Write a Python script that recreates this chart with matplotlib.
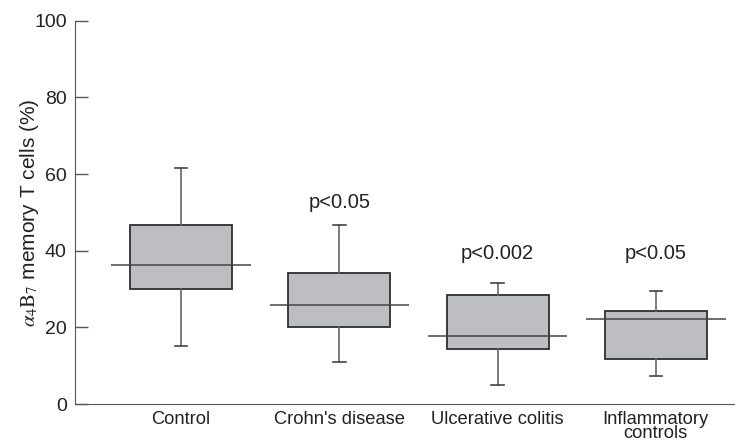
import numpy as np
import matplotlib
matplotlib.use("Agg")
import matplotlib.pyplot as plt

plt.rcParams['font.family'] = ['Liberation Sans', 'DejaVu Sans']
plt.rcParams['mathtext.fontset'] = 'stix'

groups = ["Control", "Crohn's disease", "Ulcerative colitis", "Inflammatory\ncontrols"]
whisker_lo = [15.1, 10.9, 5.0, 7.4]
q1 = [30.1, 20.0, 14.3, 11.7]
median = [36.3, 25.8, 17.8, 22.1]
q3 = [46.7, 34.3, 28.4, 24.4]
whisker_hi = [61.7, 46.8, 31.7, 29.4]
p_labels = ["", "p<0.05", "p<0.002", "p<0.05"]
p_y = [0, 52.7, 39.4, 39.4]

fig = plt.figure(figsize=(7.35, 4.43), dpi=100)
ax = fig.add_axes([0.102, 0.088, 0.898, 0.865])

pos = np.arange(1, len(groups) + 1)
stats = []
for i in range(len(groups)):
    stats.append(dict(whislo=whisker_lo[i], q1=q1[i], med=median[i],
                      q3=q3[i], whishi=whisker_hi[i], fliers=[]))

ax.bxp(stats, positions=pos, widths=0.645, patch_artist=True,
       showfliers=False,
       boxprops=dict(facecolor='#bdbec2', edgecolor='#2e2e2e', linewidth=1.3),
       whiskerprops=dict(color='#666666', linewidth=1.2),
       capprops=dict(color='#444444', linewidth=1.2),
       medianprops=dict(linewidth=0),
       capwidths=0.08)

# median lines run past the box edges
ax.hlines(median, pos - 0.44, pos + 0.44, color='#444444', linewidth=1.1, zorder=3)

for x, lab, y in zip(pos, p_labels, p_y):
    if lab:
        ax.text(x, y, lab, ha='center', va='center', fontsize=14.5, color='#222222')

ax.set_xlim(0.33, 4.5)
ax.set_ylim(0, 100)
ax.set_xticks(pos)
ax.set_xticklabels(groups, fontsize=13.2, color='#222222', linespacing=0.78)
ax.tick_params(axis='x', length=0, pad=5)
ax.set_yticks([0, 20, 40, 60, 80, 100])
ax.tick_params(axis='y', direction='in', length=9.5, width=1, color='#555555',
               labelsize=14, labelcolor='#222222', pad=6)

ax.spines['top'].set_visible(False)
ax.spines['right'].set_visible(False)
ax.spines['left'].set_color('#555555')
ax.spines['bottom'].set_color('#555555')

ax.set_ylabel(r'$\alpha_4\mathrm{B}_7$ memory T cells (%)', fontsize=15, color='#222222', labelpad=-5)

fig.savefig('out.png', dpi=100)
